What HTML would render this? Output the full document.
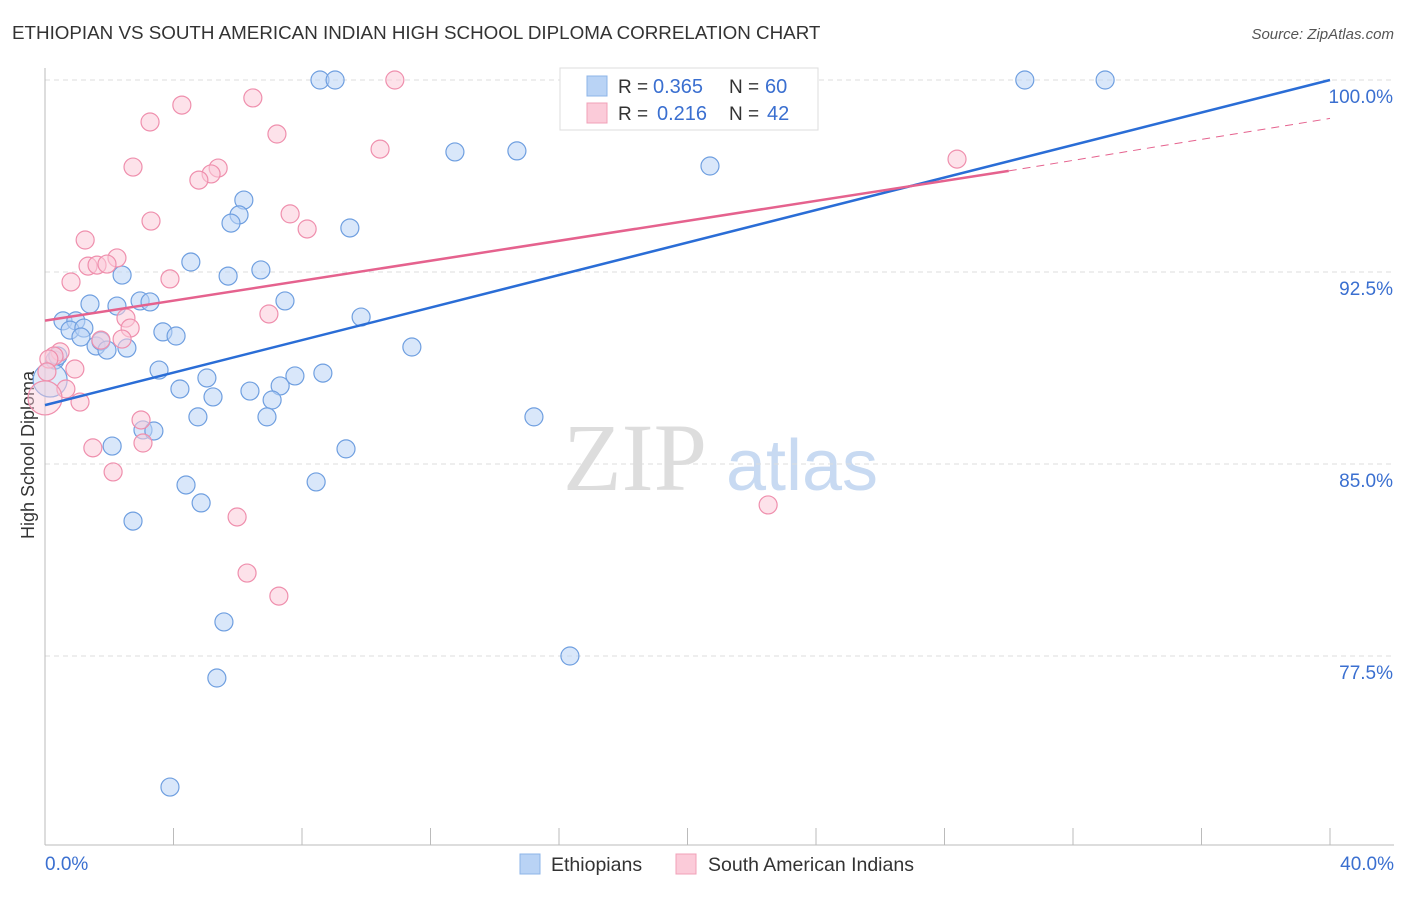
<!DOCTYPE html>
<html><head><meta charset="utf-8"><style>
body{margin:0;background:#fff;font-family:"Liberation Sans",sans-serif}
</style></head><body>
<svg id="chart" width="1406" height="892" xmlns="http://www.w3.org/2000/svg">
<text x="12" y="39" font-size="18.8" fill="#333">ETHIOPIAN VS SOUTH AMERICAN INDIAN HIGH SCHOOL DIPLOMA CORRELATION CHART</text>
<text x="1394" y="39" font-size="15" fill="#555" font-style="italic" text-anchor="end">Source: ZipAtlas.com</text>
<text x="0" y="0" transform="translate(34,455) rotate(-90)" font-size="18" fill="#333" text-anchor="middle">High School Diploma</text>
<g><text x="635" y="490" font-size="96" font-family="Liberation Serif,serif" fill="#ddd" text-anchor="middle">ZIP</text><text x="802" y="490" font-size="72" fill="#c8daf2" text-anchor="middle">atlas</text></g>
<g id="grid"></g><g id="axes"></g><g id="pts"></g><g id="lines"></g>
<g>
<rect x="560" y="68" width="258" height="62" fill="#fff" stroke="#ddd"/>
<rect x="587" y="76" width="20" height="20" fill="#b9d3f5" stroke="#8db4e8"/>
<rect x="587" y="103" width="20" height="20" fill="#fbcbd9" stroke="#f0a0b8"/>
<text x="618" y="93" font-size="19" fill="#333">R =</text>
<text x="653" y="93" font-size="20" fill="#3a6fd0">0.365</text>
<text x="729" y="93" font-size="19" fill="#333">N =</text>
<text x="765" y="93" font-size="20" fill="#3a6fd0">60</text>
<text x="618" y="120" font-size="19" fill="#333">R =</text>
<text x="657" y="120" font-size="20" fill="#3a6fd0">0.216</text>
<text x="729" y="120" font-size="19" fill="#333">N =</text>
<text x="767" y="120" font-size="20" fill="#3a6fd0">42</text>
</g>
<g>
<rect x="520" y="854" width="20" height="20" fill="#b9d3f5" stroke="#8db4e8"/>
<text x="551" y="871" font-size="19.5" fill="#333">Ethiopians</text>
<rect x="676" y="854" width="20" height="20" fill="#fbcbd9" stroke="#f0a0b8"/>
<text x="708" y="871" font-size="19.5" fill="#333">South American Indians</text>
</g>
</svg>
<script>
const yTicks=[100,92.5,85,77.5];
const yTickLabels=["100.0%","92.5%","85.0%","77.5%"];
const xTickLabels=["0.0%","40.0%"];
const blueX=[8.56,9.03,30.5,33.0,12.76,14.69,20.7,6.19,6.04,5.79,9.49,4.54,5.70,6.72,2.40,1.40,2.24,2.96,3.27,7.47,0.56,0.96,0.78,1.21,1.12,3.67,4.08,9.84,1.59,1.74,1.93,2.55,11.42,0.31,0.40,3.55,5.04,7.32,7.78,8.65,4.20,5.23,6.38,7.07,4.76,6.91,15.22,3.05,3.39,2.09,9.37,4.39,8.44,4.86,2.74,5.57,16.34,5.35,3.89,0.16];
const blueY=[100,100,100,100,97.19,97.23,96.64,95.31,94.73,94.41,94.22,92.89,92.34,92.58,92.38,91.25,91.17,91.37,91.33,91.37,90.59,90.59,90.23,90.31,89.96,90.16,90.0,90.74,89.61,89.80,89.45,89.53,89.57,89.06,89.22,88.67,88.36,88.05,88.44,88.55,87.93,87.62,87.85,87.5,86.84,86.84,86.84,86.33,86.29,85.70,85.59,84.18,84.30,83.48,82.77,78.83,77.5,76.64,72.38,88.28];
const pinkX=[10.89,4.26,6.47,3.27,7.22,2.74,10.43,28.39,5.39,5.17,4.79,3.30,7.63,8.16,1.25,2.24,1.34,1.62,1.93,3.89,0.81,2.52,2.65,6.97,2.40,1.74,0.47,0.28,0.93,0.65,1.09,2.99,3.05,1.49,2.12,22.51,5.98,6.29,7.28,0.0,0.12,0.06];
const pinkY=[100,99.02,99.30,98.36,97.89,96.60,97.30,96.91,96.56,96.33,96.09,94.49,94.77,94.18,93.75,93.05,92.73,92.77,92.81,92.23,92.11,90.70,90.31,90.86,89.88,89.84,89.38,89.22,88.71,87.93,87.42,86.72,85.82,85.63,84.69,83.40,82.93,80.74,79.84,87.58,89.1,88.6];
const blueFit=[87.3,100.0];
const pinkFit=[90.6,96.45,98.5];
const X=v=>45+v*32.125, Y=v=>80+(100-v)*25.6;
const NS="http://www.w3.org/2000/svg";
function mk(p,t,a){const e=document.createElementNS(NS,t);for(const k in a)e.setAttribute(k,a[k]);p.appendChild(e);return e;}
const grid=document.getElementById('grid'),axes=document.getElementById('axes'),pts=document.getElementById('pts'),lines=document.getElementById('lines');
yTicks.forEach((t,i)=>{
 const l=mk(grid,'line',{x1:45,x2:1394,y1:Y(t),y2:Y(t),stroke:'#ddd','stroke-dasharray':'5,4'});
 
 
 const tx=mk(axes,'text',{x:1393,y:Y(t)+23,'font-size':19,fill:'#3a6fd0','text-anchor':'end'});tx.textContent=yTickLabels[i];
 
 
});
const ax=mk(axes,'line',{x1:45,x2:45,y1:68,y2:845,stroke:'#bbb'});


const bx=mk(axes,'line',{x1:45,x2:1394,y1:845,y2:845,stroke:'#bbb'});


for(let i=0;i<=10;i++){const t=mk(axes,'line',{x1:X(i*4),x2:X(i*4),y1:828,y2:845,stroke:'#bbb'});
 
 }
[[0,'start',45],[40,'end',1394]].forEach((d,i)=>{const t=mk(axes,'text',{x:d[2],y:870,'font-size':19,fill:'#3a6fd0','text-anchor':d[1]});t.textContent=xTickLabels[i];
 
 });
function dots(xs,ys,fill,stroke,name,bigIdx){xs.forEach((x,i)=>{
 const big=(i===bigIdx);
 const c=mk(pts,'circle',{cx:X(x),cy:Y(ys[i]),r:big?17:9,fill:fill,'fill-opacity':big?0.45:0.55,stroke:stroke,'stroke-width':1.2});
 
 });}
dots(blueX,blueY,'#b9d3f5','#6f9fe0','ethiopian-point',blueX.length-1);
dots(pinkX,pinkY,'#fbcbd9','#ef8fad','south-american-indian-point',39);
let l1=mk(lines,'line',{x1:X(0),y1:Y(blueFit[0]),x2:X(40),y2:Y(blueFit[1]),stroke:'#2a6dd6','stroke-width':2.5});


let l2=mk(lines,'line',{x1:X(0),y1:Y(pinkFit[0]),x2:X(30),y2:Y(pinkFit[1]),stroke:'#e5628e','stroke-width':2.5});


let l3=mk(lines,'line',{x1:X(30),y1:Y(pinkFit[1]),x2:X(40),y2:Y(pinkFit[2]),stroke:'#e5628e','stroke-width':1,'stroke-dasharray':'8,6'});


</script>
</body></html>
